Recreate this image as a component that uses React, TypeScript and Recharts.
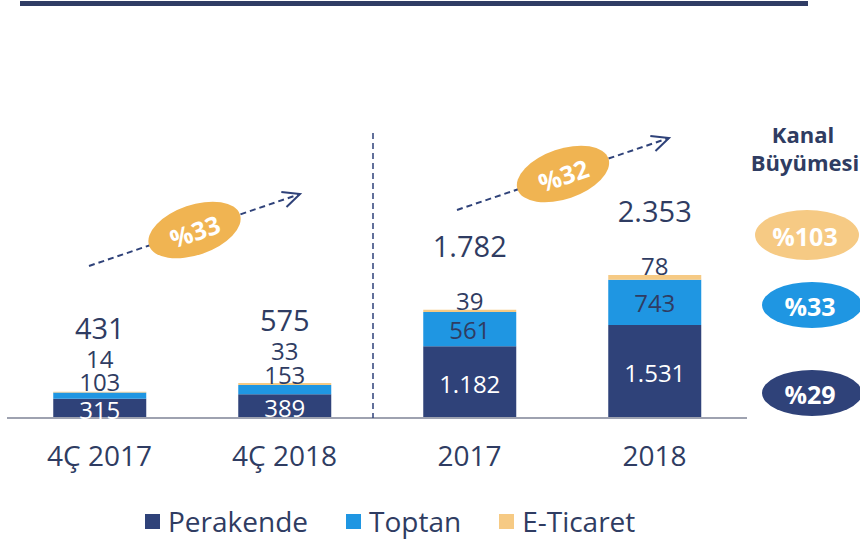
import React from 'react';
import { ComposedChart, Bar, XAxis, YAxis, LabelList, Legend } from 'recharts';

const categories = ['4Ç 2017', '4Ç 2018', '2017', '2018'];
const perakende = [315, 389, 1182, 1531];
const toptan = [103, 153, 561, 743];
const eTicaret = [14, 33, 39, 78];
const totals = [431, 575, 1782, 2353];
const seriesOrder = ['Perakende', 'Toptan', 'E-Ticaret'];
const periodGrowth = ['%33', '%32'];
const channelGrowth = ['%103', '%33', '%29'];

const NAVY = '#2f4279';
const BLUE = '#1f96e2';
const SAND = '#f6ca84';
const ORANGE = '#f0b452';
const TEXT = '#2f3c62';
const FONT = '"Open Sans", sans-serif';

const data = categories.map((c, i) => ({
  name: c,
  perakende: perakende[i],
  toptan: toptan[i],
  eTicaret: eTicaret[i],
  total: totals[i],
}));

const fmt = (v: number) => String(v).replace(/\B(?=(\d{3})+(?!\d))/g, '.');

const num = (p: any) => ({
  x: Number(p.x), y: Number(p.y), w: Number(p.width), h: Number(p.height),
  v: Number(p.value), i: Number(p.index),
});

const PerakendeLabel = (p: any) => {
  const { x, y, w, h, v } = num(p);
  return (
    <text x={x + w / 2} y={y + h / 2 + 1} fill="#fff" fontSize={24} fontFamily={FONT}
      textAnchor="middle" dominantBaseline="central">{fmt(v)}</text>
  );
};

const ToptanLabel = (p: any) => {
  const { x, y, w, h, v } = num(p);
  const cy = h >= 20 ? y + h / 2 : y - 11;
  return (
    <text x={x + w / 2} y={cy} fill={TEXT} fontSize={24} fontFamily={FONT}
      textAnchor="middle" dominantBaseline="central">{fmt(v)}</text>
  );
};

const ETicaretLabel = (p: any) => {
  const { x, y, w, v, i } = num(p);
  const cy = toptan[i] < 300 ? y - 33 : y - 9;
  return (
    <text x={x + w / 2} y={cy} fill={TEXT} fontSize={24} fontFamily={FONT}
      textAnchor="middle" dominantBaseline="central">{fmt(v)}</text>
  );
};

const TotalLabel = (p: any) => {
  const { x, y, w, v } = num(p);
  return (
    <text x={x + w / 2} y={y - 64} fill={TEXT} fontSize={29} fontFamily={FONT}
      textAnchor="middle" dominantBaseline="central">{fmt(v)}</text>
  );
};

const LegendContent = (props: any) => {
  const items = [...(props.payload || [])].sort(
    (a: any, b: any) => seriesOrder.indexOf(a.value) - seriesOrder.indexOf(b.value));
  return (
    <div style={{ display: 'flex', paddingLeft: 145, fontFamily: FONT, fontSize: 28, color: TEXT }}>
      {items.map((e: any, k: number) => (
        <div key={k} style={{ display: 'flex', alignItems: 'center', marginRight: k < 2 ? 38 : 0 }}>
          <span style={{ width: 15, height: 15, background: e.color, display: 'inline-block', marginRight: 8 }} />
          <span>{e.value}</span>
        </div>
      ))}
    </div>
  );
};

function GrowthArrow({ x1, y1, x2, y2, label }: { x1: number; y1: number; x2: number; y2: number; label: string }) {
  const ang = (Math.atan2(y2 - y1, x2 - x1) * 180) / Math.PI;
  const cx = x1 + (x2 - x1) * 0.5;
  const cy = y1 + (y2 - y1) * 0.5;
  return (
    <g>
      <line x1={x1} y1={y1} x2={x2} y2={y2} stroke={NAVY} strokeWidth={2} strokeDasharray="6 4" />
      <g transform={`translate(${x2},${y2}) rotate(${ang})`}>
        <polyline points="-17,-8 0,0 -17,8" fill="none" stroke={NAVY} strokeWidth={2} />
      </g>
      <g transform={`translate(${cx},${cy}) rotate(${ang})`}>
        <ellipse cx={0} cy={0} rx={48} ry={25} fill={ORANGE} />
        <text x={0} y={1} fill="#fff" fontSize={25} fontWeight="bold" fontFamily={FONT}
          textAnchor="middle" dominantBaseline="central">{label}</text>
      </g>
    </g>
  );
}

export default function App() {
  const pills = [
    { cx: 807, cy: 235, rx: 52, ry: 25, fill: SAND },
    { cx: 812, cy: 305, rx: 50, ry: 23, fill: BLUE },
    { cx: 812, cy: 393, rx: 50, ry: 23, fill: NAVY },
  ];
  return (
    <div style={{ position: 'absolute', left: 0, top: 0, width: 860, height: 541, background: '#fff' }}>
      <ComposedChart width={860} height={541} data={data}
        margin={{ top: 114, right: 113, bottom: 93, left: 7 }} barCategoryGap="25%">
        <XAxis dataKey="name" axisLine={{ stroke: '#9ea2b0', strokeWidth: 2 }} tickLine={false}
          tickSize={0} tickMargin={28}
          tick={{ fill: TEXT, fontSize: 28, fontFamily: FONT }} />
        <YAxis hide domain={[0, 5000]} />
        <Legend verticalAlign="middle" align="center" layout="horizontal"
          wrapperStyle={{ top: 502, left: 0, width: 860 }} content={<LegendContent />} />
        <Bar dataKey="perakende" name="Perakende" stackId="a" fill={NAVY} isAnimationActive={false}>
          <LabelList dataKey="perakende" content={PerakendeLabel} />
        </Bar>
        <Bar dataKey="toptan" name="Toptan" stackId="a" fill={BLUE} isAnimationActive={false}>
          <LabelList dataKey="toptan" content={ToptanLabel} />
        </Bar>
        <Bar dataKey="eTicaret" name="E-Ticaret" stackId="a" fill={SAND} isAnimationActive={false}>
          <LabelList dataKey="eTicaret" content={ETicaretLabel} />
          <LabelList dataKey="total" content={TotalLabel} />
        </Bar>
      </ComposedChart>
      <svg width={860} height={541} style={{ position: 'absolute', left: 0, top: 0, pointerEvents: 'none' }}>
        <rect x={20} y={1} width={788} height={5} fill="#2f3c64" />
        <line x1={373} y1={133} x2={373} y2={418} stroke={NAVY} strokeWidth={1.5} strokeDasharray="6 4" />
        <GrowthArrow x1={89} y1={266} x2={300} y2={194} label={periodGrowth[0]} />
        <GrowthArrow x1={457} y1={210} x2={669} y2={138} label={periodGrowth[1]} />
        <text x={803} y={134} fill={TEXT} fontSize={22} fontWeight="bold" fontFamily={FONT}
          textAnchor="middle" dominantBaseline="central">Kanal</text>
        <text x={805} y={162} fill={TEXT} fontSize={22} fontWeight="bold" fontFamily={FONT}
          textAnchor="middle" dominantBaseline="central">Büyümesi</text>
        {pills.map((p, k) => (
          <g key={k}>
            <ellipse cx={p.cx} cy={p.cy} rx={p.rx} ry={p.ry} fill={p.fill} />
            <text x={p.cx - 2} y={p.cy + 1} fill="#fff" fontSize={25} fontWeight="bold" fontFamily={FONT}
              textAnchor="middle" dominantBaseline="central">{channelGrowth[k]}</text>
          </g>
        ))}
      </svg>
    </div>
  );
}
